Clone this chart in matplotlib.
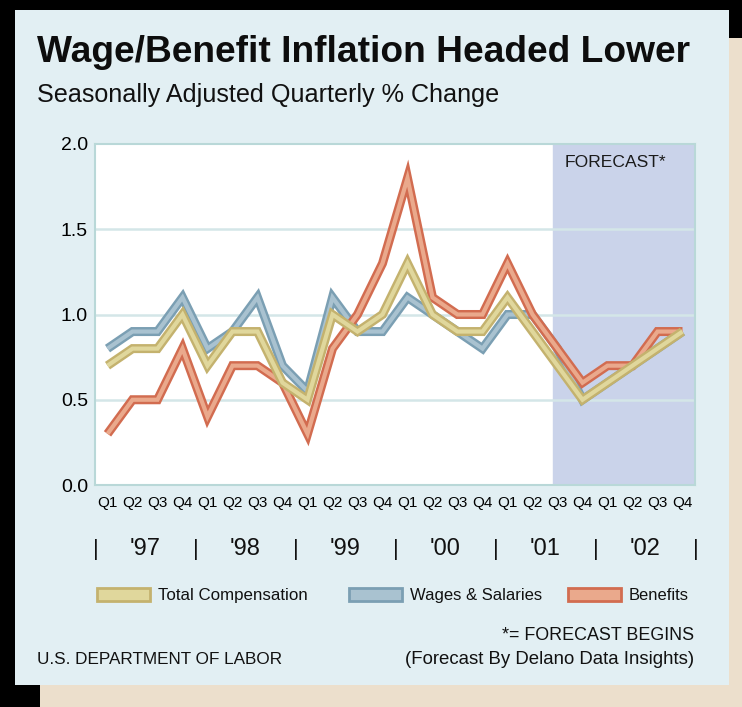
import matplotlib.pyplot as plt
from matplotlib.patches import Rectangle
from matplotlib import font_manager

# quarterly % change, Q1 1997 .. Q4 2002
quarters = ["Q1", "Q2", "Q3", "Q4"] * 6
years = ["'97", "'98", "'99", "'00", "'01", "'02"]
total_comp = [0.7, 0.8, 0.8, 1.0, 0.7, 0.9, 0.9, 0.6,
              0.5, 1.0, 0.9, 1.0, 1.3, 1.0, 0.9, 0.9,
              1.1, 0.9, 0.7, 0.5, 0.6, 0.7, 0.8, 0.9]
wages = [0.8, 0.9, 0.9, 1.1, 0.8, 0.9, 1.1, 0.7,
         0.55, 1.1, 0.9, 0.9, 1.1, 1.0, 0.9, 0.8,
         1.0, 1.0, 0.8, 0.5, 0.6, 0.7, 0.8, 0.9]
benefits = [0.3, 0.5, 0.5, 0.8, 0.4, 0.7, 0.7, 0.6,
            0.3, 0.8, 1.0, 1.3, 1.8, 1.1, 1.0, 1.0,
            1.3, 1.0, 0.8, 0.6, 0.7, 0.7, 0.9, 0.9]
forecast_start = 17.8

names = [f.name for f in font_manager.fontManager.ttflist]
narrow = "Liberation Sans Narrow" if "Liberation Sans Narrow" in names else "Liberation Sans"
plt.rcParams["font.family"] = [narrow, "DejaVu Sans"]

W, H = 742, 707
fig = plt.figure(figsize=(W / 100, H / 100), dpi=100, facecolor="black")
renderer = fig.canvas.get_renderer()


def px(x, y):
    return x / W, 1 - y / H


def fit(t, width):
    # shrink/grow the font so the text spans the given pixel width
    w = t.get_window_extent(renderer).width
    t.set_fontsize(t.get_fontsize() * width / w)
    return t


# shadow and panel
fig.patches.append(Rectangle(px(40, 707), 702 / W, 669 / H, transform=fig.transFigure,
                             facecolor="#ecdfcc", edgecolor="none", zorder=0))
fig.patches.append(Rectangle(px(15, 685), 714 / W, 675 / H, transform=fig.transFigure,
                             facecolor="#e2eff3", edgecolor="none", zorder=1))

fit(fig.text(*px(37, 52), "Wage/Benefit Inflation Headed Lower", fontsize=30, fontweight="bold",
             va="center", ha="left", color="#0d0d0d", zorder=4), 653)
fit(fig.text(*px(37, 95), "Seasonally Adjusted Quarterly % Change", fontsize=18,
             va="center", ha="left", color="#111111", zorder=4), 460)

ax = fig.add_axes([95 / W, 1 - 485 / H, 600 / W, 341 / H])
ax.set_zorder(5)
ax.set_facecolor("white")
x = list(range(len(quarters)))
ax.axvspan(forecast_start, 23.5, color="#cad3ea", zorder=0)
for g in [0.5, 1.0, 1.5]:
    ax.axhline(g, color="#d4e6e8", lw=1.8, zorder=1)

series = [
    (wages, "#7b9fb3", "#a9c2d0"),
    (benefits, "#d26c50", "#eaa98c"),
    (total_comp, "#c4b26e", "#e0d79c"),
]
for i, (vals, outer, inner) in enumerate(series):
    ax.plot(x, vals, color=outer, lw=6.5, solid_joinstyle="miter", solid_capstyle="butt", zorder=2 + i)
    ax.plot(x, vals, color=inner, lw=3.0, solid_joinstyle="miter", solid_capstyle="butt", zorder=2 + i)

ax.set_xlim(-0.5, 23.5)
ax.set_ylim(0, 2.0)
ax.set_yticks([0, 0.5, 1.0, 1.5, 2.0])
ax.set_yticklabels(["0.0", "0.5", "1.0", "1.5", "2.0"], fontsize=14)
ax.set_xticks(x)
ax.set_xticklabels(quarters, fontsize=11)
ax.tick_params(length=0)
ax.tick_params(axis="x", pad=8)
ax.tick_params(axis="y", pad=5)
for s in ax.spines.values():
    s.set_color("#b9d8d8")
    s.set_linewidth(1.5)

fit(ax.text(18.3, 1.89, "FORECAST*", fontsize=14, color="#1a1a1a", va="center", ha="left"), 102)

# year row
for b in range(7):
    fig.text(*px(95.5 + 100 * b, 549), "|", fontsize=16, ha="center", va="center", color="#111111", zorder=4)
for i, yr in enumerate(years):
    fig.text(*px(145.5 + 100 * i, 549), yr, fontsize=17, ha="center", va="center", color="#111111", zorder=4)

# legend
legend_items = [("Total Compensation", 97, 150, "#c4b26e", "#e0d79c"),
                ("Wages & Salaries", 349, 133, "#7b9fb3", "#a9c2d0"),
                ("Benefits", 568, 60, "#d26c50", "#eaa98c")]
for label, lx, lw, outer, inner in legend_items:
    fig.patches.append(Rectangle(px(lx, 601), 53 / W, 13 / H, transform=fig.transFigure,
                                 facecolor=inner, edgecolor=outer, lw=2, zorder=3))
    fit(fig.text(*px(lx + 61, 600), label, fontsize=14, ha="left", va="baseline", color="#111111",
                 zorder=4), lw)

fit(fig.text(*px(37, 659), "U.S. DEPARTMENT OF LABOR", fontsize=14, ha="left", va="center",
             color="#111111", zorder=4), 246)
fit(fig.text(*px(694, 636), "*= FORECAST BEGINS", fontsize=14, ha="right", va="center",
             color="#111111", zorder=4), 192)
fit(fig.text(*px(694, 660), "(Forecast By Delano Data Insights)", fontsize=14, ha="right", va="center",
             color="#111111", zorder=4), 292)

fig.savefig("out.png", dpi=100, facecolor="black")
